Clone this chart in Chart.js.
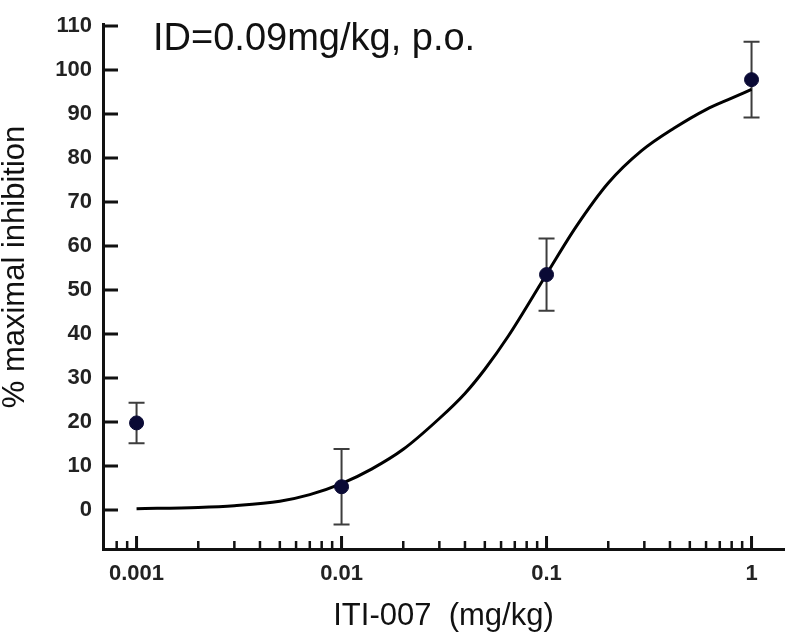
<!DOCTYPE html>
<html>
<head>
<meta charset="utf-8">
<script src="https://cdn.jsdelivr.net/npm/chart.js@4/dist/chart.umd.min.js"></script>
<style>
  html, body { margin: 0; padding: 0; background: #fff; }
  #wrap { width: 792px; height: 635px; }
</style>
</head>
<body>
<div id="wrap"><canvas id="chart"></canvas></div>
<script>
// measured doses (mg/kg) and responses
const doses = [0.001, 0.01, 0.1, 1]
const meanInhibition = [19.8, 5.3, 53.5, 97.8]
const errInhibition = [4.6, 8.6, 8.2, 8.6]

// fitted curve
const fitDoses = [0.001, 0.002, 0.003, 0.005, 0.007, 0.01, 0.014, 0.02, 0.03, 0.04, 0.05, 0.065, 0.1, 0.14, 0.2, 0.29, 0.42, 0.6, 0.8, 1]
const fitValues = [0.3, 0.6, 1.0, 2.0, 3.5, 6.0, 9.3, 13.8, 20.8, 26.5, 32.0, 39.5, 53.6, 64.5, 74.3, 81.6, 86.8, 91.0, 93.6, 95.6]

const xTickValues = [0.001, 0.01, 0.1, 1]
const xTickLabels = ['0.001', '0.01', '0.1', '1']
const yTickValues = [0, 10, 20, 30, 40, 50, 60, 70, 80, 90, 100, 110]
const xMinorTicks = [0.0007, 0.0008, 0.0009,
  0.002, 0.003, 0.004, 0.005, 0.006, 0.007, 0.008, 0.009,
  0.02, 0.03, 0.04, 0.05, 0.06, 0.07, 0.08, 0.09,
  0.2, 0.3, 0.4, 0.5, 0.6, 0.7, 0.8, 0.9]

const annotationText = 'ID=0.09mg/kg, p.o.'
const yTitle = '% maximal inhibition'
const xTitle = 'ITI-007  (mg/kg)'
const fontFamily = '"Liberation Sans", Arial, Helvetica, sans-serif'

// inward tick marks, drawn from the scales, plus the in-plot label
const innerTicks = {
  id: 'innerTicks',
  afterDraw(chart) {
    const { ctx, chartArea, scales } = chart
    ctx.save()
    ctx.strokeStyle = '#111'
    ctx.lineWidth = 3
    ctx.beginPath()
    yTickValues.forEach((v) => {
      const y = scales.y.getPixelForValue(v)
      ctx.moveTo(chartArea.left, y)
      ctx.lineTo(chartArea.left + 15, y)
    })
    xTickValues.forEach((v) => {
      const x = scales.x.getPixelForValue(v)
      ctx.moveTo(x, chartArea.bottom)
      ctx.lineTo(x, chartArea.bottom - 13)
    })
    ctx.stroke()
    ctx.lineWidth = 2.5
    ctx.beginPath()
    xMinorTicks.forEach((v) => {
      const x = scales.x.getPixelForValue(v)
      if (x < chartArea.left + 2) return
      ctx.moveTo(x, chartArea.bottom)
      ctx.lineTo(x, chartArea.bottom - 8)
    })
    ctx.stroke()

    ctx.fillStyle = '#111'
    ctx.font = '38px ' + fontFamily
    ctx.textBaseline = 'alphabetic'
    ctx.fillText(annotationText, chartArea.left + 50, chartArea.top + 26)

    // y axis title, a little above the plot centre as in the figure
    ctx.translate(15, 267)
    ctx.rotate(-Math.PI / 2)
    ctx.font = '31px ' + fontFamily
    ctx.textAlign = 'center'
    ctx.textBaseline = 'middle'
    ctx.fillText(yTitle, 0, 0)
    ctx.restore()
  },
}

// error bars under the points
const errorBars = {
  id: 'errorBars',
  beforeDatasetsDraw(chart) {
    const { ctx, scales } = chart
    ctx.save()
    ctx.strokeStyle = '#3d3d3d'
    ctx.lineWidth = 2
    doses.forEach((d, i) => {
      const x = scales.x.getPixelForValue(d)
      const yTop = scales.y.getPixelForValue(meanInhibition[i] + errInhibition[i])
      const yBot = scales.y.getPixelForValue(meanInhibition[i] - errInhibition[i])
      ctx.beginPath()
      ctx.moveTo(x, yTop)
      ctx.lineTo(x, yBot)
      ctx.moveTo(x - 8, yTop)
      ctx.lineTo(x + 8, yTop)
      ctx.moveTo(x - 8, yBot)
      ctx.lineTo(x + 8, yBot)
      ctx.stroke()
    })
    ctx.restore()
  },
}

const ctx = document.getElementById('chart').getContext('2d')
new Chart(ctx, {
  type: 'scatter',
  data: {
    datasets: [
      {
        type: 'line',
        data: fitDoses.map((d, i) => ({ x: d, y: fitValues[i] })),
        borderColor: '#000',
        borderWidth: 3,
        pointRadius: 0,
        fill: false,
        cubicInterpolationMode: 'monotone',
        order: 2,
      },
      {
        type: 'scatter',
        data: doses.map((d, i) => ({ x: d, y: meanInhibition[i] })),
        backgroundColor: '#0a0a35',
        borderColor: '#0a0a35',
        pointRadius: 7,
        order: 1,
      },
    ],
  },
  options: {
    responsive: true,
    maintainAspectRatio: false,
    animation: false,
    layout: { padding: { top: 10, right: 2, left: 0, bottom: 0 } },
    plugins: {
      legend: { display: false },
      tooltip: { enabled: false },
    },
    scales: {
      x: {
        type: 'logarithmic',
        min: 0.000686,
        max: 1.44,
        afterBuildTicks: (scale) => {
          scale.ticks = xTickValues.map((v) => ({ value: v }))
        },
        afterFit: (scale) => { scale.height = 86 },
        grid: { display: false, drawTicks: false },
        border: { display: true, color: '#111', width: 3 },
        ticks: {
          autoSkip: false,
          maxRotation: 0,
          padding: 12,
          color: '#222',
          font: { family: fontFamily, size: 22, weight: 'bold' },
          callback: (value) => xTickLabels[xTickValues.indexOf(value)],
        },
        title: {
          display: true,
          text: xTitle,
          color: '#111',
          font: { family: fontFamily, size: 31 },
          padding: { top: 6, bottom: 0 },
        },
      },
      y: {
        min: -8.85,
        max: 110.4,
        afterBuildTicks: (scale) => {
          scale.ticks = yTickValues.map((v) => ({ value: v }))
        },
        afterFit: (scale) => { scale.width = 103 },
        grid: { display: false, drawTicks: false },
        border: { display: true, color: '#111', width: 3 },
        ticks: {
          padding: 11,
          color: '#222',
          font: { family: fontFamily, size: 22, weight: 'bold' },
        },
      },
    },
  },
  plugins: [innerTicks, errorBars],
})
</script>
</body>
</html>
